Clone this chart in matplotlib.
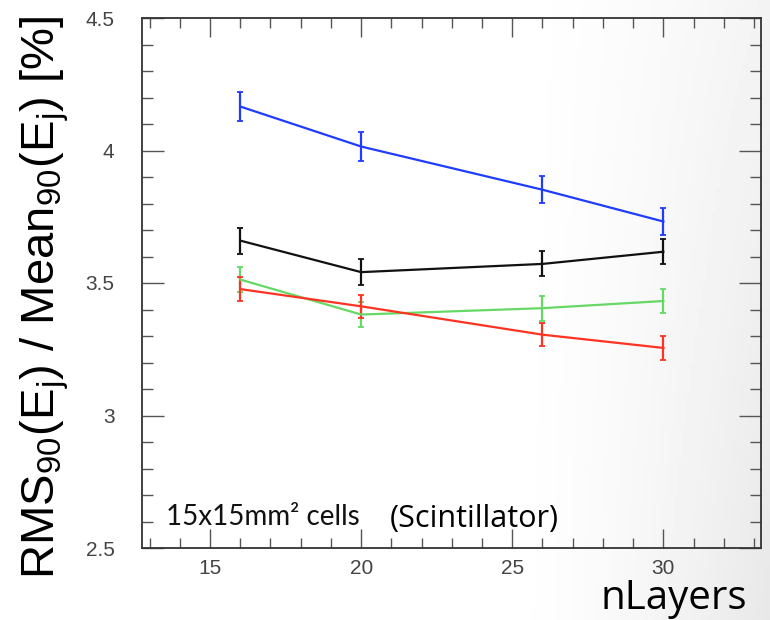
import numpy as np
import matplotlib
matplotlib.use("Agg")
import matplotlib.pyplot as plt
from matplotlib.ticker import MultipleLocator

plt.rcParams["font.family"] = ["Liberation Sans", "DejaVu Sans"]
plt.rcParams["mathtext.fontset"] = "custom"
plt.rcParams["mathtext.rm"] = "Liberation Sans"
plt.rcParams["mathtext.it"] = "Liberation Sans:italic"

# values
n_layers = [16, 20, 26, 30]
blue = [4.166, 4.015, 3.852, 3.732]
blue_err = [0.055, 0.055, 0.050, 0.050]
black = [3.660, 3.541, 3.572, 3.618]
black_err = [0.049, 0.048, 0.047, 0.047]
green = [3.513, 3.381, 3.405, 3.432]
green_err = [0.046, 0.046, 0.047, 0.044]
red = [3.477, 3.412, 3.305, 3.255]
red_err = [0.044, 0.044, 0.044, 0.044]

series = [
    (blue, blue_err, "#1f3cff"),
    (black, black_err, "#111111"),
    (green, green_err, "#66d866"),
    (red, red_err, "#ff3322"),
]

fig = plt.figure(figsize=(7.7, 6.2), dpi=100)

# faint slide-style gradient behind everything
bg = fig.add_axes([0, 0, 1, 1], zorder=-10)
gx, gy = np.meshgrid(np.linspace(0, 1, 200), np.linspace(0, 1, 200))
shade = np.clip((gx - 0.65) / 0.35, 0, 1) ** 1.5 * (0.5 + 0.5 * gy)
bg.imshow(1 - 0.09 * shade, cmap="gray", vmin=0, vmax=1, aspect="auto",
          extent=[0, 1, 0, 1], origin="upper")
bg.axis("off")

ax = fig.add_axes([142.3 / 770, 72 / 620, (761 - 142.3) / 770, 530 / 620])
ax.patch.set_alpha(0)

for vals, errs, col in series:
    ax.errorbar(n_layers, vals, yerr=errs, color=col, lw=1.6,
                elinewidth=1.6, capsize=2.5, capthick=1.3)

ax.set_xlim(12.76, 33.23)
ax.set_ylim(2.5, 4.5)
ax.xaxis.set_major_locator(MultipleLocator(5))
ax.xaxis.set_minor_locator(MultipleLocator(1))
ax.yaxis.set_major_locator(MultipleLocator(0.5))
ax.yaxis.set_minor_locator(MultipleLocator(0.1))
ax.yaxis.set_major_formatter(plt.FuncFormatter(lambda v, p: f"{v:g}"))

ax.tick_params(which="both", direction="in", top=True, right=True,
               color="#555555", width=1.0, labelcolor="#444444",
               labelsize=15)
ax.tick_params(axis="x", which="major", length=14, pad=8)
ax.tick_params(axis="x", which="minor", length=7)
ax.tick_params(axis="y", which="major", length=16, pad=20)
ax.tick_params(axis="y", which="minor", length=8)
for sp in ax.spines.values():
    sp.set_linewidth(1.3)
    sp.set_color("#333333")

fig.text(45 / 770, (620 - 297) / 620,
         r"RMS$_{\rm 90}$(E$_{\rm j}$) / Mean$_{\rm 90}$(E$_{\rm j}$) [%]",
         rotation=90, ha="center", va="center", fontsize=34)

ax.text(166 / 770, (620 - 525) / 620, "15x15mm² cells", transform=fig.transFigure,
        fontsize=20, family="Lato", color="#111111", ha="left", va="baseline")
ax.text(390 / 770, (620 - 527) / 620, "(Scintillator)", transform=fig.transFigure,
        fontsize=22, family="Open Sans", color="black", ha="left", va="baseline")
fig.text(600 / 770, (620 - 609) / 620, "nLayers", fontsize=29,
         family="Open Sans", color="black", ha="left", va="baseline")

fig.savefig("out.png", dpi=100)
